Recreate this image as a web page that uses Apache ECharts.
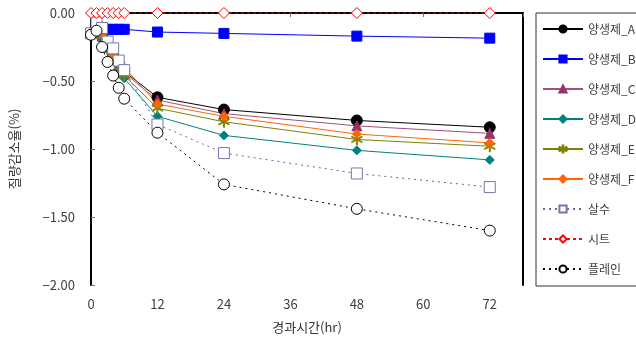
<!DOCTYPE html>
<html>
<head>
<meta charset="utf-8">
<script src="https://cdn.jsdelivr.net/npm/echarts@6/dist/echarts.min.js"></script>
<style>
  html, body { margin: 0; padding: 0; background: #fff; }
  #chart { width: 636px; height: 343px; }
</style>
</head>
<body>
<div id="chart"></div>
<script>
// 경과시간 (hr)
var hours = [0, 1, 2, 3, 4, 5, 6, 12, 24, 48, 72]
var seriesNames = ['양생제_A', '양생제_B', '양생제_C', '양생제_D', '양생제_E', '양생제_F', '살수', '시트', '플레인']

// 질량감소율 (%)
var valuesA = [-0.15, -0.14, -0.17, -0.24, -0.31, -0.37, -0.43, -0.62, -0.71, -0.79, -0.84]
var valuesB = [-0.15, -0.10, -0.11, -0.12, -0.12, -0.12, -0.12, -0.14, -0.15, -0.17, -0.185]
var valuesC = [-0.15, -0.14, -0.17, -0.25, -0.32, -0.38, -0.44, -0.64, -0.74, -0.83, -0.885]
var valuesD = [-0.15, -0.14, -0.18, -0.27, -0.35, -0.42, -0.48, -0.76, -0.90, -1.01, -1.08]
var valuesE = [-0.15, -0.14, -0.17, -0.26, -0.33, -0.40, -0.46, -0.70, -0.80, -0.93, -0.98]
var valuesF = [-0.15, -0.14, -0.16, -0.24, -0.31, -0.36, -0.40, -0.67, -0.76, -0.89, -0.955]
var valuesSalsu = [-0.15, -0.07, -0.11, -0.21, -0.26, -0.35, -0.42, -0.82, -1.03, -1.18, -1.28]
var valuesSheet = [0, 0, 0, 0, 0, 0, 0, 0, 0, 0, 0]
var valuesPlain = [-0.16, -0.13, -0.25, -0.36, -0.46, -0.55, -0.63, -0.88, -1.26, -1.44, -1.60]

var FONT = '"Noto Sans CJK KR", "Noto Sans", sans-serif'
var asterisk = 'path://M-0.8,-10L0.8,-10L0.8,10L-0.8,10Z' +
  'M8.26,5.69L9.06,4.31L-8.26,-5.69L-9.06,-4.31Z' +
  'M-9.06,4.31L-8.26,5.69L9.06,-4.31L8.26,-5.69Z'

function pairs (vals) {
  return hours.map(function (h, i) { return [h, vals[i]] })
}

// 시리즈 스타일
function makeSeries (name, vals, lineColor, lineType, symbol, symbolSize, fill, border) {
  return {
    name: name,
    type: 'line',
    data: pairs(vals),
    clip: false,
    symbol: symbol,
    symbolSize: symbolSize,
    showAllSymbol: true,
    lineStyle: { color: lineColor, width: 1, type: lineType },
    itemStyle: { color: fill, borderColor: border, borderWidth: 1 },
    emphasis: { disabled: true },
  }
}

var series = [
  makeSeries(seriesNames[0], valuesA, '#000000', 'solid', 'circle', 11, '#000000', '#000000'),
  makeSeries(seriesNames[1], valuesB, '#0000ff', 'solid', 'rect', 10, '#0000ff', '#0000ff'),
  makeSeries(seriesNames[2], valuesC, '#a0507a', 'solid', 'triangle', 10, '#993366', '#993366'),
  makeSeries(seriesNames[3], valuesD, '#008080', 'solid', 'diamond', 9, '#008080', '#008080'),
  makeSeries(seriesNames[4], valuesE, '#808000', 'solid', asterisk, 11, '#808000', '#808000'),
  makeSeries(seriesNames[5], valuesF, '#ff6600', 'solid', 'diamond', 9, '#ff6600', '#ff6600'),
  makeSeries(seriesNames[6], valuesSalsu, '#6666aa', [2, 4], 'rect', 11, '#ffffff', '#7777aa'),
  makeSeries(seriesNames[7], valuesSheet, '#ff0000', [3, 3], 'diamond', 11, '#ffffff', '#ff0000'),
  makeSeries(seriesNames[8], valuesPlain, '#000000', [2, 4], 'circle', 11, '#ffffff', '#000000'),
]

var option = {
  animation: false,
  textStyle: { fontFamily: FONT },
  grid: { left: 89, right: 113, top: 13, bottom: 58 },
  legend: {
    orient: 'vertical',
    left: 536,
    top: 13,
    width: 99,
    padding: [10, 40, 11, 6],
    itemWidth: 40,
    itemHeight: 9,
    itemGap: 18,
    backgroundColor: '#fff',
    borderColor: '#333',
    borderWidth: 1,
    borderRadius: 0,
    data: seriesNames,
    textStyle: { fontSize: 12, color: '#404040', fontFamily: FONT },
  },
  xAxis: [
    {
      type: 'value',
      min: 0,
      max: 78,
      interval: 12,
      name: '경과시간(hr)',
      nameLocation: 'middle',
      nameGap: 36,
      nameTextStyle: { fontSize: 13, color: '#333' },
      axisLine: { lineStyle: { color: '#000', width: 2 } },
      axisTick: { show: false },
      splitLine: { show: false },
      axisLabel: {
        margin: 13,
        fontSize: 13,
        color: '#404040',
        formatter: function (v) { return v % 12 === 0 && v <= 72 ? String(v) : '' },
      },
    },
    {
      type: 'value',
      position: 'top',
      min: 0,
      max: 78,
      interval: 12,
      axisLine: { onZero: false, lineStyle: { color: '#000', width: 2 } },
      axisTick: { inside: true, length: 4, lineStyle: { color: '#777' } },
      axisLabel: { show: false },
      splitLine: { show: false },
    },
  ],
  yAxis: [
    {
      type: 'value',
      min: -2,
      max: 0,
      interval: 0.5,
      name: '질량감소율(%)',
      nameLocation: 'middle',
      nameGap: 70,
      nameTextStyle: { fontSize: 13, color: '#333' },
      axisLine: { onZero: false, lineStyle: { color: '#000', width: 2 } },
      axisTick: { inside: true, length: 4, lineStyle: { color: '#777' } },
      splitLine: { show: false },
      axisLabel: {
        margin: 16,
        fontSize: 13,
        color: '#404040',
        formatter: function (v) {
          var s = Math.abs(v).toFixed(2)
          return v < 0 ? '\u2212' + s : s
        },
      },
    },
    {
      type: 'value',
      position: 'right',
      min: -2,
      max: 0,
      axisLine: { show: true, onZero: false, lineStyle: { color: '#000', width: 2 } },
      axisTick: { show: false },
      axisLabel: { show: false },
      splitLine: { show: false },
    },
  ],
  series: series,
}

var myChart = echarts.init(document.getElementById('chart'))
myChart.setOption(option)
</script>
</body>
</html>
